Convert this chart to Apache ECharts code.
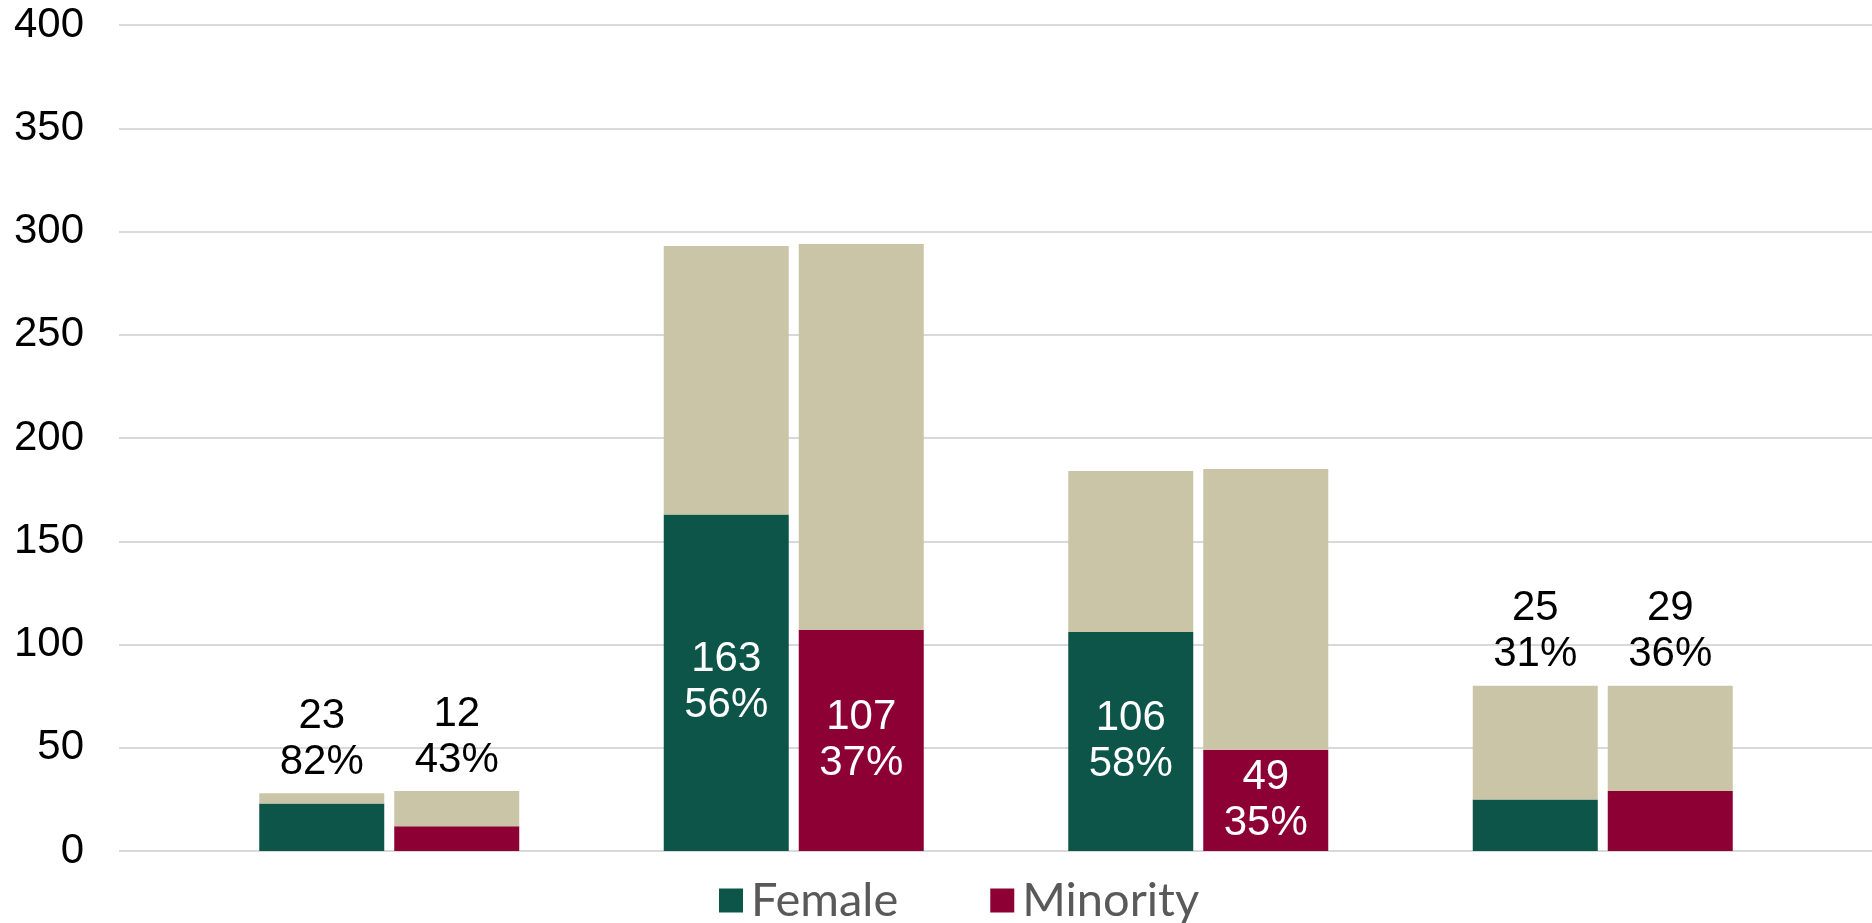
<!DOCTYPE html>
<html>
<head>
<meta charset="utf-8">
<style>
  html, body { margin: 0; padding: 0; background: #fff; }
  #chart { width: 1872px; height: 923px; }
</style>
<script src="https://cdn.jsdelivr.net/npm/echarts@6/dist/echarts.min.js"></script>
</head>
<body>
<div id="chart"></div>
<script>
// data
const categories = ['A', 'B', 'C', 'D'];
const femaleCount = [23, 163, 106, 25];
const femalePct = ['82%', '56%', '58%', '31%'];
const femaleTotal = [28, 293, 184, 80];
const minorityCount = [12, 107, 49, 29];
const minorityPct = ['43%', '37%', '35%', '36%'];
const minorityTotal = [29, 294, 185, 80];
// label sits above the bar for small groups, inside for the large ones
const labelOutside = [true, false, false, true];
const yTicks = { min: 0, max: 400, interval: 50 };

const colors = {
  female: '#0d5449',
  minority: '#8c0034',
  rest: '#cac5a6'
};

const fontFamily = 'Arial, "Liberation Sans", sans-serif';

function rest(total, count) {
  return total.map((t, i) => t - count[i]);
}

function insideLabel(count, pct) {
  return {
    show: true,
    position: 'inside',
    color: '#fff',
    fontSize: 42,
    fontFamily,
    lineHeight: 46,
    formatter: p => labelOutside[p.dataIndex] ? '' : count[p.dataIndex] + '\n' + pct[p.dataIndex]
  };
}

function topLabel(count, pct) {
  return {
    show: true,
    position: 'top',
    distance: 8,
    color: '#000',
    fontSize: 42,
    fontFamily,
    lineHeight: 46,
    formatter: p => labelOutside[p.dataIndex] ? count[p.dataIndex] + '\n' + pct[p.dataIndex] : ''
  };
}

const chart = echarts.init(document.getElementById('chart'));

chart.setOption({
  animation: false,
  grid: [
    // full-width grid for gridlines and y labels
    { left: 119, right: 0, top: 25, bottom: 72 },
    // narrower grid for the bars
    { left: 187, right: 67, top: 25, bottom: 72 }
  ],
  legend: {
    data: ['Female', 'Minority'],
    left: 714,
    top: 872,
    itemWidth: 24,
    itemHeight: 24,
    itemGap: 92,
    icon: 'rect',
    textStyle: {
      fontSize: 47,
      color: '#595959',
      fontFamily: 'Lato, "Open Sans", sans-serif',
      padding: [0, 0, 0, 3]
    }
  },
  xAxis: [
    { type: 'category', gridIndex: 0, data: categories, show: false },
    {
      type: 'category',
      gridIndex: 1,
      data: categories,
      axisLine: { show: false },
      axisTick: { show: false },
      axisLabel: { show: false }
    }
  ],
  yAxis: [
    {
      type: 'value',
      gridIndex: 0,
      min: yTicks.min,
      max: yTicks.max,
      interval: yTicks.interval,
      axisLine: { show: false },
      axisTick: { show: false },
      axisLabel: {
        fontSize: 42,
        color: '#000',
        fontFamily,
        margin: 35
      },
      splitLine: { lineStyle: { color: '#d9d9d9', width: 2 } }
    },
    {
      type: 'value',
      gridIndex: 1,
      min: yTicks.min,
      max: yTicks.max,
      interval: yTicks.interval,
      show: false,
      splitLine: { show: false }
    }
  ],
  series: [
    {
      name: 'Female',
      type: 'bar',
      xAxisIndex: 1,
      yAxisIndex: 1,
      stack: 'female',
      barWidth: 125,
      barGap: '8%',
      itemStyle: { color: colors.female },
      label: insideLabel(femaleCount, femalePct),
      data: femaleCount
    },
    {
      name: 'Female rest',
      type: 'bar',
      xAxisIndex: 1,
      yAxisIndex: 1,
      stack: 'female',
      barWidth: 125,
      itemStyle: { color: colors.rest },
      label: topLabel(femaleCount, femalePct),
      data: rest(femaleTotal, femaleCount)
    },
    {
      name: 'Minority',
      type: 'bar',
      xAxisIndex: 1,
      yAxisIndex: 1,
      stack: 'minority',
      barWidth: 125,
      barGap: '8%',
      itemStyle: { color: colors.minority },
      label: insideLabel(minorityCount, minorityPct),
      data: minorityCount
    },
    {
      name: 'Minority rest',
      type: 'bar',
      xAxisIndex: 1,
      yAxisIndex: 1,
      stack: 'minority',
      barWidth: 125,
      itemStyle: { color: colors.rest },
      label: topLabel(minorityCount, minorityPct),
      data: rest(minorityTotal, minorityCount)
    }
  ]
});
</script>
</body>
</html>
